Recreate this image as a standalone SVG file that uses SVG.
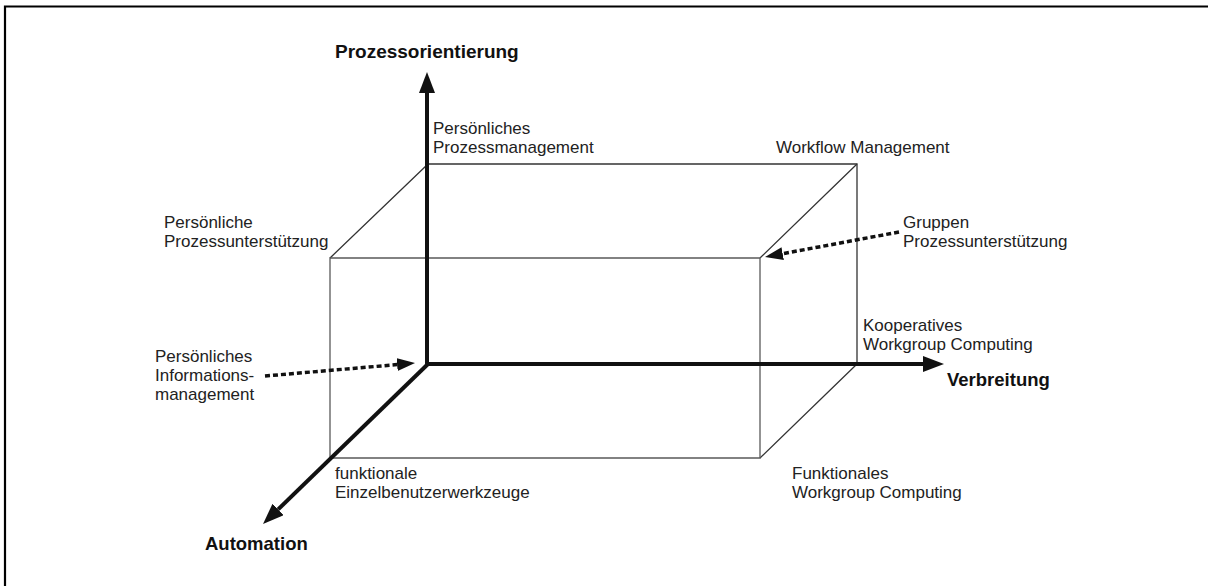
<svg xmlns="http://www.w3.org/2000/svg" width="1208" height="586" viewBox="0 0 1208 586">
  <style>
    .frame { stroke: #000; stroke-width: 2.2; fill: none; }
    .edge-back { stroke: #333; stroke-width: 1.3; fill: none; }
    .edge-front { stroke: #5a5a5a; stroke-width: 1.3; fill: none; }
    .axis { stroke: #111; stroke-width: 4; fill: none; }
    .pointer { stroke: #111; stroke-width: 3.5; stroke-dasharray: 5 3; fill: none; }
    .lbl { font-family: "Liberation Sans", Arial, sans-serif; font-size: 17px; fill: #222; }
    .axis-lbl { font-family: "Liberation Sans", Arial, sans-serif; font-size: 18.5px; font-weight: bold; fill: #111; }
  </style>
  <defs>
    <marker id="axis-head" markerUnits="userSpaceOnUse" markerWidth="22" markerHeight="18" refX="0" refY="8" orient="auto">
      <path d="M0,0 L21,8 L0,16 Z" fill="#111"/>
    </marker>
    <marker id="pointer-head" markerUnits="userSpaceOnUse" markerWidth="19" markerHeight="14" refX="0" refY="6.5" orient="auto">
      <path d="M0,0 L18,6.5 L0,13 Z" fill="#111"/>
    </marker>
  </defs>

  <rect width="1208" height="586" fill="#fff"/>

  <!-- page frame (top and left edges) -->
  <path class="frame" d="M5,586 L5,6.5 L1208,6.5"/>

  <!-- cube -->
  <g id="cube">
    <path class="edge-back" d="M428,164 L857,164 L857,364"/>
    <path class="edge-back" d="M330,258 L428,164 M760,258 L857,164 M760,458 L857,364"/>
    <path class="edge-front" d="M330,258 L760,258 L760,458 L330,458 Z"/>
  </g>

  <!-- axes and pointers -->
  <g id="connectors">
    <path class="axis" d="M427,366 L427,93" marker-end="url(#axis-head)"/>
    <path class="axis" d="M425,364 L923,364" marker-end="url(#axis-head)"/>
    <path class="axis" d="M428,364 L278.1,509.4" marker-end="url(#axis-head)"/>
    <path class="pointer" d="M899,232 L782.7,253.7" marker-end="url(#pointer-head)"/>
    <path class="pointer" d="M265,376 L397.1,364.6" marker-end="url(#pointer-head)"/>
  </g>

  <!-- axis titles -->
  <g id="axis-prozessorientierung"><text class="axis-lbl" x="335" y="58" style="font-size:19px">Prozessorientierung</text></g>
  <g id="axis-verbreitung"><text class="axis-lbl" x="947" y="386">Verbreitung</text></g>
  <g id="axis-automation"><text class="axis-lbl" x="205" y="550">Automation</text></g>

  <!-- corner labels -->
  <g id="persoenliches-prozessmanagement">
    <text class="lbl" x="433" y="134">Persönliches</text>
    <text class="lbl" x="433" y="153">Prozessmanagement</text>
  </g>
  <g id="workflow-management">
    <text class="lbl" x="776" y="153">Workflow Management</text>
  </g>
  <g id="persoenliche-prozessunterstuetzung">
    <text class="lbl" x="164" y="228">Persönliche</text>
    <text class="lbl" x="164" y="247">Prozessunterstützung</text>
  </g>
  <g id="gruppen-prozessunterstuetzung">
    <text class="lbl" x="903" y="228">Gruppen</text>
    <text class="lbl" x="903" y="247">Prozessunterstützung</text>
  </g>
  <g id="kooperatives-workgroup-computing">
    <text class="lbl" x="863" y="331">Kooperatives</text>
    <text class="lbl" x="863" y="350">Workgroup Computing</text>
  </g>
  <g id="persoenliches-informationsmanagement">
    <text class="lbl" x="155" y="362">Persönliches</text>
    <text class="lbl" x="155" y="381">Informations-</text>
    <text class="lbl" x="155" y="400">management</text>
  </g>
  <g id="funktionale-einzelbenutzerwerkzeuge">
    <text class="lbl" x="335" y="479">funktionale</text>
    <text class="lbl" x="335" y="498">Einzelbenutzerwerkzeuge</text>
  </g>
  <g id="funktionales-workgroup-computing">
    <text class="lbl" x="792" y="479">Funktionales</text>
    <text class="lbl" x="792" y="498">Workgroup Computing</text>
  </g>
</svg>
